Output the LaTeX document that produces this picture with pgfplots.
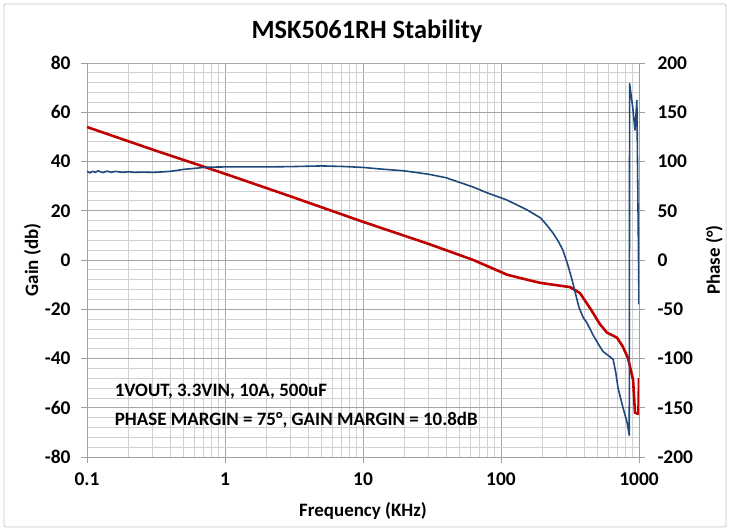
\documentclass[border=0pt]{standalone}
\usepackage{pgfplots}
\pgfplotsset{compat=1.18}
\usepackage{fontspec}
\setmainfont{Carlito}
\definecolor{gainred}{HTML}{C00000}
\definecolor{phaseblue}{HTML}{1F497D}
\definecolor{majgrid}{HTML}{A6A6A6}
\definecolor{mingrid}{HTML}{D0D0D0}
\definecolor{frame}{HTML}{A0A0A0}

\pgfplotstableread{
f G
0.1 54
0.3 44.8
1 35
3 25.8
10 15.5
30 6.5
63 0
111 -6
162 -8.3
194 -9.3
250 -10.2
316 -11
373 -13.4
447 -20
520 -26
586 -29.5
692 -31.5
760 -35
832 -39.8
906 -48.7
935 -62
990 -62.5
1000 -48
}\gaindata

\pgfplotstableread{
f P
0.1 90
0.105 88.5
0.11 90
0.115 89
0.12 90.5
0.13 88.8
0.14 90.2
0.15 89
0.16 90
0.18 89
0.2 89.6
0.22 89
0.25 89.2
0.3 89
0.35 89.4
0.4 90
0.45 91
0.5 92
0.6 93
0.7 94
0.8 94.3
1 94.5
2 94.5
3 94.8
5 95.5
7 95
10 94
13.3 92.4
20 90.5
30 87
40 83.5
63 74
80 68
110 61
154 51
194 42.6
216 35
238 27.4
260 19
281 10
305 -5
327 -20
367 -48
393 -58
420 -64
464 -76
521 -88
549 -93
600 -97
650 -101
680 -115
705 -130
766 -150
820 -165
850 -178
855 179
900 155
935 132
965 162
1000 -45
}\phasedata

\begin{document}
\begin{tikzpicture}
\pgfplotsset{
  every axis/.append style={
    scale only axis,
    width=552bp, height=394bp,
    at={(0,0)}, anchor=south west,
    xmode=log, xmin=0.1, xmax=1000,
    tick align=outside,
    major tick length=6bp,
    minor tick length=0pt,
    tick style={frame, line width=0.8pt},
    axis line style={frame, line width=0.8pt},
    tick label style={font=\fontsize{19.5}{19.5}\selectfont\bfseries},
    label style={font=\fontsize{19}{19}\selectfont\bfseries},
  },
}
\begin{axis}[
  axis y line*=left, axis x line*=bottom,
  ymin=-80, ymax=80,
  ytick={-80,-60,...,80},
  yticklabels={-80,-60,-40,-20,0,20,40,60,80},
  minor y tick num=4,
  xtick={0.1,1,10,100,1000},
  xticklabels={0.1,1,10,100,1000},
  grid=both,
  major grid style={majgrid, line width=0.8pt},
  minor grid style={mingrid, line width=0.8pt},
  yticklabel style={xshift=-7bp},
  xticklabel style={yshift=-6bp},
  xlabel={Frequency (KHz)},
  ylabel={Gain (db)},
  xlabel style={yshift=-10bp},
  ylabel style={yshift=-3bp},
]
\addplot[gainred, line width=2.6pt, line join=round] table[x=f, y=G] {\gaindata};
\node[anchor=west, font=\fontsize{19}{19}\selectfont\bfseries] at (axis cs:0.15,-53.6) {1VOUT, 3.3VIN, 10A, 500uF};
\node[anchor=west, font=\fontsize{19}{19}\selectfont\bfseries] at (axis cs:0.15,-65.2) {PHASE MARGIN = 75°, GAIN MARGIN = 10.8dB};
\end{axis}
\begin{axis}[
  axis y line*=right, axis x line=none,
  ymin=-200, ymax=200,
  ytick={-200,-150,...,200},
  yticklabels={-200,-150,-100,-50,0,50,100,150,200},
  yticklabel style={xshift=9bp},
  ylabel={Phase (°)},
  ylabel style={xshift=0bp, yshift=-6bp},
]
\addplot[phaseblue, line width=1.6pt, line join=round] table[x=f, y=P] {\phasedata};
\end{axis}
\node[font=\fontsize{26.5}{26.5}\selectfont\bfseries] at (280bp,426bp) {MSK5061RH Stability};
\draw[gray!45, line width=0.8pt, rounded corners=2bp] (-83bp,-70bp) rectangle (639bp,453bp);
\path[use as bounding box] (-87bp,-74bp) rectangle (643bp,457bp);
\end{tikzpicture}
\end{document}
